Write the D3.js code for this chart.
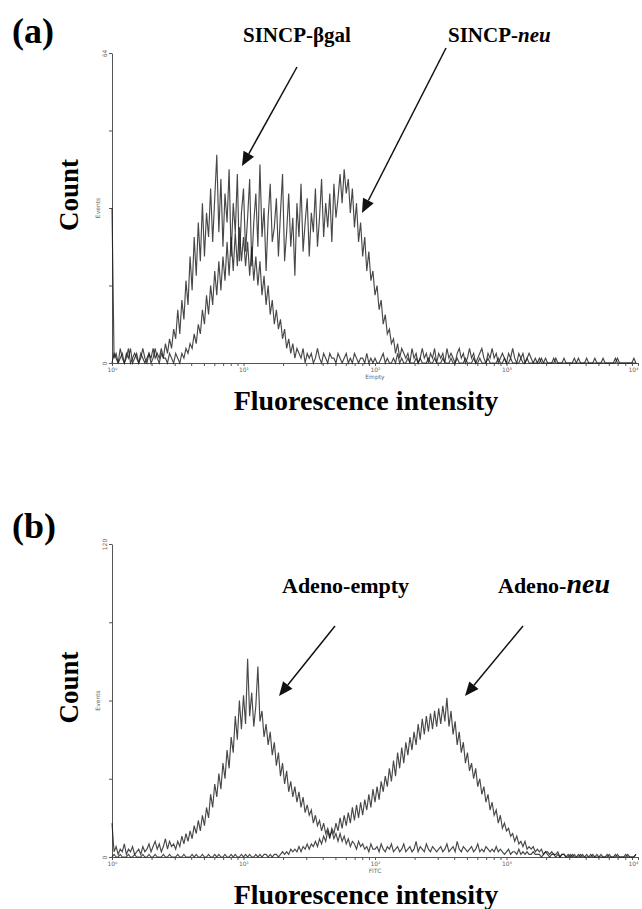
<!DOCTYPE html>
<html>
<head>
<meta charset="utf-8">
<script src="https://cdn.jsdelivr.net/npm/d3@7"></script>
<style>
  html, body { margin: 0; padding: 0; background: #fff; }
  svg { display: block; }
</style>
</head>
<body>
<svg id="chart" width="642" height="909"></svg>
<script>
// ---------------- DATA ----------------
// histogram channels: 64 channels per decade, 4 decades (10^0 .. 10^4)
const channelsPerDecade = 64;
const xDecades = [1, 10, 100, 1000, 10000];
const xDecadeLabels = ["10\u2070", "10\u00b9", "10\u00b2", "10\u00b3", "10\u2074"];

// Panel (a)
const aTitle = "(a)";
const aYTicks = [0, 16, 32, 48, 64];
const aYTickLabels = ["0", "", "", "", "64"];
const aXName = "Empty";
const aSeriesNames = ["SINCP-\u03b2gal", "SINCP-neu"];
const aGal = [
  0,2,1,0,1,2,0,1,3,0,1,2,1,0,2,1,
  0,1,2,0,1,3,1,0,2,1,1,0,2,1,0,2,
  1,0,2,1,3,2,4,3,6,4,8,6,11,8,14,10,
  16,12,19,14,21,15,22,17,25,18,26,19,27,20,28,21,
  26,20,25,18,24,17,22,16,21,14,18,12,16,10,13,8,
  11,7,9,5,7,3,5,2,4,1,3,2,1,3,0,2,
  1,2,0,1,3,1,0,2,1,0,2,1,1,0,2,1,
  0,1,2,0,1,0,2,1,0,1,1,0,2,0,1,0,
  1,0,0,1,2,0,1,0,0,1,0,2,0,1,0,0,
  1,0,0,0,1,0,1,0,0,0,1,0,0,1,0,0,
  0,1,0,0,0,1,0,0,1,0,0,0,1,0,0,0,
  1,0,0,1,0,0,0,1,0,0,0,0,1,0,0,1,
  0,0,1,0,0,0,0,1,0,0,1,0,0,0,0,0,
  0,1,0,0,0,0,0,0,1,0,0,0,0,0,0,0,
  0,0,0,1,0,0,0,0,0,0,0,1,0,0,0,0,
  0,0,0,0,0,1,0,0,0,0,0,0,0,0,0,0
];
const aNeu = [
  32,1,2,0,3,1,0,2,1,3,0,1,2,0,1,3,
  1,0,2,1,3,1,2,1,3,1,4,2,5,3,7,5,
  11,6,13,9,17,12,22,15,26,18,29,21,33,22,31,26,
  36,25,34,43,27,38,24,35,29,40,22,33,27,39,21,31,
  36,23,30,38,20,29,35,24,41,26,32,19,30,37,25,28,
  34,22,31,39,21,27,35,24,30,18,33,26,37,23,29,34,
  22,31,27,36,24,30,38,26,33,28,35,25,37,30,34,39,
  33,40,35,38,31,36,28,33,25,29,22,26,19,23,17,19,
  14,16,11,13,8,10,6,7,4,5,2,4,1,3,2,1,
  2,0,3,1,2,0,1,3,1,2,0,2,1,3,0,2,
  1,2,0,3,1,2,1,0,2,3,1,2,0,1,3,1,
  2,0,1,2,3,1,0,2,1,3,1,2,0,1,2,1,
  0,2,1,3,1,0,2,1,2,0,1,2,1,0,1,0,
  1,0,0,1,0,0,0,1,0,0,0,0,1,0,0,0,
  0,1,0,0,0,0,0,1,0,0,0,0,0,0,0,1,
  0,0,0,0,0,0,1,0,0,0,0,0,0,0,1,0
];

// Panel (b)
const bTitle = "(b)";
const bYTicks = [0, 30, 60, 90, 120];
const bYTickLabels = ["0", "", "", "", "120"];
const bXName = "FITC";
const bSeriesNames = ["Adeno-empty", "Adeno-neu"];
const bEmpty = [
  13,2,4,1,3,2,5,1,3,2,4,1,2,3,1,4,
  2,3,5,2,4,6,3,5,2,4,7,3,6,4,5,3,
  6,4,8,5,9,6,10,7,12,9,14,10,16,12,19,15,
  24,19,28,23,32,26,36,30,41,34,46,40,54,45,60,49,
  62,51,76,54,63,50,58,73,52,56,46,51,43,48,39,44,
  35,40,31,36,28,33,25,29,23,27,21,25,19,23,17,20,
  16,18,13,16,12,14,10,13,9,11,8,10,7,9,6,9,
  6,8,5,7,4,6,5,3,6,4,5,3,4,2,5,3,
  3,4,2,5,3,2,4,3,5,2,3,4,2,3,5,2,
  3,4,2,3,6,2,4,3,2,5,3,2,4,3,2,3,
  4,2,3,5,2,3,4,2,6,3,2,4,3,2,3,4,
  2,3,5,2,3,2,4,3,2,3,2,4,2,3,2,1,
  2,3,1,2,2,1,3,1,2,1,2,1,1,2,1,1,
  1,0,1,2,1,0,1,1,0,1,0,1,1,0,0,1,
  0,1,0,0,1,0,0,1,0,0,1,0,0,0,1,0,
  0,0,1,0,0,0,1,0,0,0,0,1,0,0,0,1
];
const bNeu = [
  0,1,0,0,1,0,0,0,1,0,0,1,0,0,0,1,
  0,0,1,0,0,1,0,0,0,1,0,0,1,0,0,0,
  1,0,0,1,0,0,0,1,0,1,0,0,1,0,0,1,
  0,0,1,0,1,0,0,1,0,0,1,0,1,0,0,1,
  0,1,0,1,0,0,1,0,1,0,1,1,0,1,0,1,
  1,0,1,2,1,2,1,3,2,3,2,4,2,4,3,5,
  3,5,4,6,4,7,5,8,6,10,7,11,9,13,10,15,
  11,16,12,17,13,19,14,20,15,21,16,22,18,24,19,26,
  21,27,22,29,25,31,27,34,29,37,31,40,34,42,36,44,
  39,46,41,48,43,51,45,53,47,54,48,55,49,56,50,57,
  51,58,52,61,50,56,47,52,43,48,40,44,36,40,33,36,
  30,34,27,30,24,27,21,24,18,21,16,18,13,16,11,13,
  10,11,8,9,6,8,5,6,4,6,3,4,3,4,2,3,
  2,3,1,2,2,1,2,1,1,2,0,1,1,0,1,0,
  1,0,0,1,0,1,0,0,0,1,0,0,1,0,0,0,
  0,1,0,0,0,1,0,0,0,0,1,0,0,0,0,1
];

const yAxisName = "Count";
const xAxisName = "Fluorescence intensity";
const detectorYName = "Events";

// ---------------- DRAWING ----------------
const svg = d3.select("#chart");
svg.append("rect").attr("width", 642).attr("height", 909).attr("fill", "#fff");

const serif = "'Liberation Serif', 'Times New Roman', serif";
const sans = "'DejaVu Sans', 'Liberation Sans', sans-serif";

function drawPanel(p) {
  const g = svg.append("g");
  const x = d3.scaleLog().domain([xDecades[0], xDecades[xDecades.length - 1]]).range([112, 638]);
  const y = d3.scaleLinear().domain([p.yTicks[0], p.yTicks[p.yTicks.length - 1]]).range([p.bottom, p.top]);

  // x ticks: decades + minor 2..9
  const minor = [];
  xDecades.slice(0, -1).forEach(d => { for (let k = 2; k <= 9; k++) minor.push(d * k); });
  const xAxis = d3.axisBottom(x)
    .tickValues(xDecades.concat(minor))
    .tickSize(3).tickSizeOuter(0).tickPadding(2)
    .tickFormat(v => { const i = xDecades.indexOf(v); return i >= 0 ? xDecadeLabels[i] : ""; });
  const gx = g.append("g").attr("transform", `translate(0,${p.bottom})`).call(xAxis);
  gx.select(".domain").attr("stroke", "#555").attr("stroke-width", 1);
  gx.selectAll(".tick line").attr("stroke", "#555");
  gx.selectAll(".tick text").attr("font-family", sans).attr("font-size", 6).attr("fill", "#666")
    .attr("text-anchor", d => d === xDecades[xDecades.length - 1] ? "end" : "middle");

  const yAxis = d3.axisLeft(y).tickValues(p.yTicks).tickSize(3).tickSizeOuter(0)
    .tickFormat((v, i) => p.yTickLabels[i]);
  const gy = g.append("g").attr("transform", "translate(112,0)").call(yAxis);
  gy.select(".domain").attr("stroke", "#555").attr("stroke-width", 1);
  gy.selectAll(".tick line").attr("stroke", "#555");
  gy.selectAll(".tick text")
    .attr("font-family", sans).attr("font-size", 6).attr("fill", "#666")
    .attr("text-anchor", "middle").attr("x", 0).attr("y", -5).attr("dy", 0)
    .attr("transform", "rotate(-90)");

  // tiny detector labels
  g.append("text").attr("transform", `translate(100,${(p.top + p.bottom) / 2}) rotate(-90)`)
    .attr("text-anchor", "middle").attr("font-family", sans).attr("font-size", 6).attr("fill", "#666")
    .text(detectorYName);
  g.append("text").attr("x", 375).attr("y", p.bottom + 16)
    .attr("text-anchor", "middle").attr("font-family", sans).attr("font-size", 6).attr("fill", "#666")
    .text(p.xName);

  // histograms
  const line = d3.line()
    .x((d, i) => x(Math.pow(10, i / channelsPerDecade)))
    .y(d => y(d));
  p.series.forEach(s => {
    g.append("path").attr("d", line(s)).attr("fill", "none")
      .attr("stroke", "#1a1a1a").attr("stroke-width", 1.15).attr("stroke-linejoin", "miter")
      .attr("stroke-opacity", 0.8);
  });

  // panel letter
  g.append("text").attr("x", 12).attr("y", p.letterY)
    .attr("font-family", serif).attr("font-weight", "bold").attr("font-size", 36)
    .text(p.title);

  // axis names
  g.append("text").attr("transform", `translate(78,${(p.top + p.bottom) / 2 - 13}) rotate(-90)`)
    .attr("text-anchor", "middle").attr("font-family", serif).attr("font-weight", "bold").attr("font-size", 27)
    .text(yAxisName);
  g.append("text").attr("x", 366).attr("y", p.bottom + 47)
    .attr("text-anchor", "middle").attr("font-family", serif).attr("font-weight", "bold").attr("font-size", 28)
    .text(xAxisName);

  // annotations
  p.annotations.forEach(a => {
    const t = g.append("text").attr("x", a.tx).attr("y", a.ty)
      .attr("font-family", serif).attr("font-weight", "bold").attr("font-size", a.size);
    t.append("tspan").text(a.plain);
    if (a.italic) t.append("tspan").attr("font-style", "italic").attr("font-size", a.italicSize).text(a.italic);
    // arrow
    const dx = a.x2 - a.x1, dy = a.y2 - a.y1, len = Math.hypot(dx, dy);
    const ux = dx / len, uy = dy / len;
    const hl = 14, hw = 6;
    const bx = a.x2 - ux * hl, by = a.y2 - uy * hl;
    g.append("line").attr("x1", a.x1).attr("y1", a.y1).attr("x2", bx).attr("y2", by)
      .attr("stroke", "#111").attr("stroke-width", 1.5);
    g.append("path")
      .attr("d", `M${a.x2},${a.y2}L${bx - uy * hw},${by + ux * hw}L${bx + uy * hw},${by - ux * hw}Z`)
      .attr("fill", "#111");
  });
}

drawPanel({
  title: aTitle, letterY: 43, top: 53, bottom: 363,
  yTicks: aYTicks, yTickLabels: aYTickLabels, xName: aXName,
  series: [aGal, aNeu],
  annotations: [
    { plain: "SINCP-\u03b2gal", tx: 243, ty: 42, size: 21, x1: 297, y1: 67, x2: 242, y2: 166 },
    { plain: "SINCP-", italic: "neu", italicSize: 21, tx: 448, ty: 42, size: 21, x1: 446, y1: 48, x2: 362, y2: 213 }
  ]
});

drawPanel({
  title: bTitle, letterY: 538, top: 544, bottom: 857,
  yTicks: bYTicks, yTickLabels: bYTickLabels, xName: bXName,
  series: [bEmpty, bNeu],
  annotations: [
    { plain: "Adeno-empty", tx: 282, ty: 593, size: 22, x1: 335, y1: 626, x2: 279, y2: 696 },
    { plain: "Adeno-", italic: "neu", italicSize: 28, tx: 498, ty: 593, size: 22, x1: 523, y1: 626, x2: 465, y2: 696 }
  ]
});
</script>
</body>
</html>
